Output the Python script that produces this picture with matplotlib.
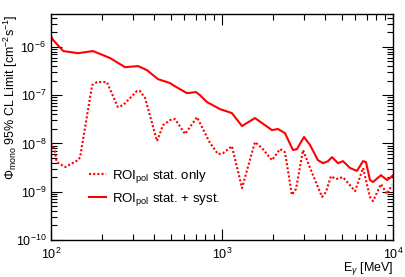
import matplotlib
matplotlib.use('Agg')
import matplotlib.pyplot as plt
from matplotlib.ticker import LogLocator, NullFormatter
import numpy as np

plt.rcParams['font.family'] = ['Liberation Sans', 'DejaVu Sans']
plt.rcParams['mathtext.fontset'] = 'custom'
plt.rcParams['mathtext.rm'] = 'Liberation Sans'
plt.rcParams['mathtext.it'] = 'Liberation Sans:italic'
plt.rcParams['mathtext.bf'] = 'Liberation Sans:bold'

# stat + syst (solid)
e_syst = [100, 103, 118, 144, 176, 221, 271, 323, 364, 422, 497, 516, 624, 705, 743,
          817, 973, 1143, 1309, 1559, 1960, 2125, 2334, 2600, 2745, 2897, 3017, 3270,
          3640, 3899, 4169, 4397, 4769, 5100, 5607, 6156, 6679, 6950, 7334, 7640,
          8506, 9220, 9730, 10000]
phi_syst = [1.67e-6, 1.38e-6, 8.2e-7, 7.4e-7, 8.2e-7, 5.9e-7, 3.8e-7, 4.0e-7, 3.3e-7,
            2.15e-7, 1.78e-7, 1.62e-7, 1.10e-7, 1.16e-7, 1.0e-7, 7.2e-8, 5.15e-8,
            4.25e-8, 2.29e-8, 3.36e-8, 1.89e-8, 1.99e-8, 1.64e-8, 7.3e-9, 7.65e-9,
            1.07e-8, 1.36e-8, 9.3e-9, 4.5e-9, 3.9e-9, 4.3e-9, 5.2e-9, 3.9e-9, 4.3e-9,
            3.1e-9, 2.7e-9, 4.3e-9, 4.1e-9, 1.75e-9, 1.59e-9, 2.2e-9, 1.75e-9, 2.0e-9,
            2.2e-9]

# stat only (dotted)
e_stat = [100, 105, 108, 121, 144, 148, 174, 186, 212, 246, 264, 318, 331, 355, 417,
          452, 497, 531, 608, 714, 851, 948, 1014, 1143, 1309, 1559, 1714, 1960, 2183,
          2334, 2564, 2709, 2977, 3311, 3846, 4055, 4338, 4642, 5100, 5998, 6679, 7334,
          7640, 8506, 9220, 9860]
phi_stat = [1.02e-8, 7.3e-9, 4.1e-9, 3.25e-9, 4.5e-9, 5.2e-9, 1.62e-7, 1.87e-7, 1.87e-7,
            5.7e-8, 6.2e-8, 1.22e-7, 1.22e-7, 8.7e-8, 1.12e-8, 2.4e-8, 3.05e-8, 3.2e-8,
            1.57e-8, 3.5e-8, 1.02e-8, 6.0e-9, 6.3e-9, 8.8e-9, 1.19e-9, 1.07e-8, 8.0e-9,
            4.5e-9, 7.65e-9, 6.6e-9, 8.6e-10, 1.14e-9, 7.3e-9, 2.8e-9, 7.8e-10, 9.9e-10,
            2.1e-9, 1.83e-9, 2.0e-9, 1.03e-9, 3.1e-9, 7.8e-10, 6.4e-10, 1.44e-9, 9.0e-10,
            1.38e-9]

fig = plt.figure(figsize=(4.05, 2.77), dpi=100)
ax = fig.add_axes([51/405, 37/277, 342/405, 226/277])

ax.plot(e_stat, phi_stat, color='#ff0000', lw=1.5, ls=(0, (1, 1)),
        label='ROI$_{\\rm pol}$ stat. only')
ax.plot(e_syst, phi_syst, color='#ff0000', lw=1.5, label='ROI$_{\\rm pol}$ stat. + syst.')

ax.set_xscale('log')
ax.set_yscale('log')
ax.set_xlim(100, 10000)
ax.set_ylim(1e-10, 4.8e-6)

ax.xaxis.set_minor_locator(LogLocator(base=10, subs=np.arange(2, 10)))
ax.yaxis.set_minor_locator(LogLocator(base=10, subs=np.arange(2, 10), numticks=20))
ax.xaxis.set_minor_formatter(NullFormatter())
ax.yaxis.set_minor_formatter(NullFormatter())
ax.tick_params(which='both', direction='in', top=True, right=True, labelsize=9, width=0.8)
ax.tick_params(which='major', length=8)
ax.tick_params(which='minor', length=4)
ax.tick_params(axis='x', pad=5)
for s in ax.spines.values():
    s.set_linewidth(1.0)

ax.set_xlabel('E$_{\\gamma}$ [MeV]', loc='right', fontsize=9)
ax.xaxis.set_label_coords(1.0, -0.088)
ax.set_ylabel('$\\Phi_{\\rm mono}$ 95% CL Limit [cm$^{-2}$s$^{-1}$]', loc='top', fontsize=9)
ax.yaxis.set_label_coords(-0.09, 1.0)

ax.legend(loc='lower left', bbox_to_anchor=(0.075, 0.09), frameon=False, fontsize=9.5,
          handlelength=1.3, handletextpad=0.45, labelspacing=0.45)

fig.savefig('out.png', dpi=100)
